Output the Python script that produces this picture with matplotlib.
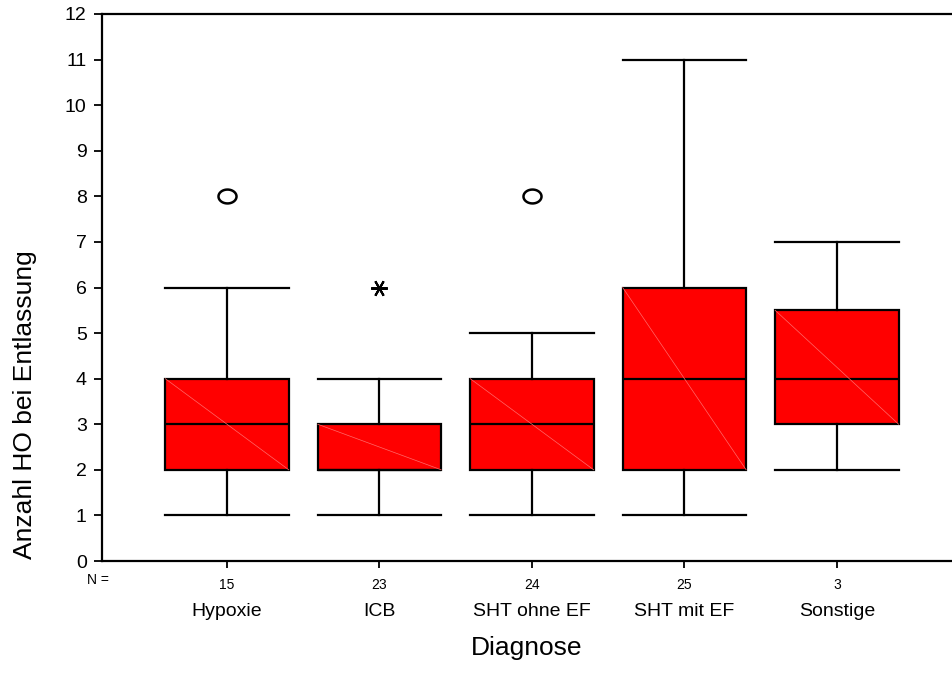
import matplotlib
matplotlib.use('Agg')
import matplotlib.pyplot as plt
import numpy as np
from matplotlib.path import Path

plt.rcParams['font.family'] = ['Liberation Sans', 'DejaVu Sans']

# Boxplot summary values
categories = ['Hypoxie', 'ICB', 'SHT ohne EF', 'SHT mit EF', 'Sonstige']
n_counts = [15, 23, 24, 25, 3]
whisker_low = [1, 1, 1, 1, 2]
q1 = [2, 2, 2, 2, 3]
median = [3, 2, 3, 4, 4]
q3 = [4, 3, 4, 6, 5.5]
whisker_high = [6, 4, 5, 11, 7]
# outliers (circle) and extremes (asterisk): (category index, value)
outliers = [(0, 8), (2, 8)]
extremes = [(1, 6)]

yticks = list(range(13))

fig = plt.figure(figsize=(9.52, 6.88), dpi=100)
ax = fig.add_axes([102 / 952, 1 - 561 / 688, 1 - 102 / 952, (561 - 14) / 688])

pos = np.arange(len(categories))
width = 0.81

stats = []
for i in range(len(categories)):
    stats.append({'whislo': whisker_low[i], 'q1': q1[i], 'med': median[i],
                  'q3': q3[i], 'whishi': whisker_high[i], 'fliers': []})

ax.bxp(stats, positions=pos, widths=width, showfliers=False, patch_artist=True,
       capwidths=width,
       boxprops=dict(facecolor='#ff0000', edgecolor='black', linewidth=1.6),
       medianprops=dict(color='black', linewidth=1.6),
       whiskerprops=dict(color='black', linewidth=1.6),
       capprops=dict(color='black', linewidth=1.6))

# faint diagonal seen inside each box
for i in range(len(categories)):
    ax.plot([pos[i] - width / 2, pos[i] + width / 2], [q3[i], q1[i]],
            color='#ff6a6a', linewidth=0.5, zorder=2.5)

# SPSS-style outlier marker: slightly wide rounded shape
t = np.linspace(0, 2 * np.pi, 40)
oval = Path(np.column_stack([1.3 * np.cos(t), np.sin(t)]), closed=True)

ax.plot([pos[c] for c, v in outliers], [v for c, v in outliers], linestyle='none',
        marker=oval, markersize=13, markerfacecolor='none', markeredgecolor='black',
        markeredgewidth=1.8)
ax.plot([pos[c] for c, v in extremes], [v for c, v in extremes], linestyle='none',
        marker=(6, 2, 90), markersize=12, markeredgecolor='black', markeredgewidth=1.5)

ax.set_xlim(-0.82, 4.755)
ax.set_ylim(0, 12)

ax.set_yticks(yticks)
ax.set_yticklabels([str(v) for v in yticks], fontsize=14)
ax.tick_params(axis='y', length=6, width=1.3, direction='out', pad=5)
# the "0" label sits a little above its tick in the reference
ax.get_yticklabels()[0].set_y(0.2)

ax.set_xticks(pos)
ax.set_xticklabels([str(n) for n in n_counts], fontsize=10)
ax.tick_params(axis='x', length=5, width=1.3, direction='out', pad=7)

for i, c in enumerate(categories):
    ax.annotate(c, xy=(pos[i], 0), xycoords=('data', 'axes fraction'),
                xytext=(0, -51), textcoords='offset pixels', ha='center',
                va='center', fontsize=14)
ax.annotate('N =', xy=(0, 0), xycoords='axes fraction', xytext=(-4, -19),
            textcoords='offset pixels', ha='center', va='center', fontsize=10)

for side in ['left', 'bottom', 'top']:
    ax.spines[side].set_linewidth(1.6)
ax.spines['right'].set_visible(False)

fig.text(527 / 952, 1 - 648 / 688, 'Diagnose', ha='center', va='center', fontsize=19)
fig.text(25 / 952, 1 - 405 / 688, 'Anzahl HO bei Entlassung', ha='center',
         va='center', rotation=90, fontsize=19)

fig.savefig('out.png', dpi=100)
